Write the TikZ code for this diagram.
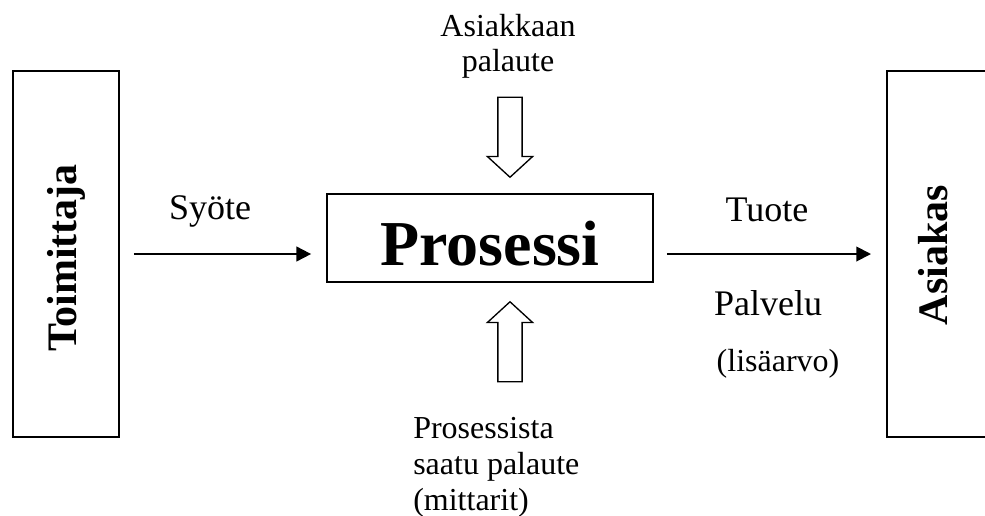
\documentclass[tikz,border=0pt]{standalone}
\usepackage{fontspec}
\setmainfont{Liberation Serif}
\usetikzlibrary{arrows.meta,shapes.arrows}

\tikzset{
  laatikko/.style={draw, line width=1.3pt, inner sep=0pt},
  nuoli/.style={line width=1.4pt, -{Triangle[length=11pt,width=11pt]}},
  paksunuoli/.style={draw, line width=1pt, single arrow, minimum height=60pt, minimum width=33pt,
    single arrow head extend=7.9pt, single arrow tip angle=95, inner xsep=0pt, inner ysep=8.6pt},
  teksti/.style={font=\fontsize{24}{27}\selectfont, inner sep=0pt},
  isoteksti/.style={font=\fontsize{27}{30}\selectfont, inner sep=0pt},
  sivuteksti/.style={font=\fontsize{31.5}{36}\selectfont\bfseries, inner sep=0pt, rotate=90, anchor=base},
}

\begin{document}
\begin{tikzpicture}[x=0.75pt,y=0.75pt,yscale=-1,xscale=1]
\useasboundingbox (0,0) rectangle (985,515);

%Process box
\node [laatikko, minimum width=244.5pt, minimum height=66pt, text height=40.5pt, text depth=0pt,
  font=\fontsize{48}{56}\selectfont\bfseries] (prosessi) at (490,238) {Prosessi};

%Supplier box
\node [laatikko, minimum width=79.5pt, minimum height=274.5pt] (toimittaja) at (66,254) {};
\node [sivuteksti] (toimittajateksti) at (76,258) {Toimittaja};

%Customer box, open on the right
\coordinate (asiakas) at (887,254);
\draw [line width=1.3pt] (990,71) -- (887,71) -- (887,437) -- (990,437);
\node [sivuteksti] (asiakasteksti) at (947,255) {Asiakas};

%Flow arrows
\draw [nuoli, shorten <=10.5pt, shorten >=11.25pt] (toimittaja.east) -- (toimittaja.east -| prosessi.west);
\draw [nuoli, shorten <=9.75pt, shorten >=12pt] (prosessi.east |- asiakas) -- (asiakas);

%Feedback arrows (yshift is flipped by yscale=-1)
\node [paksunuoli, rotate=-90, anchor=tip] (ylanuoli) at ([xshift=15pt,yshift=-11.25pt]prosessi.north) {};
\node [paksunuoli, rotate=90, anchor=tip] (alanuoli) at ([xshift=15pt,yshift=13.5pt]prosessi.south) {};

% Text Node
\node [isoteksti, anchor=base] (syote) at (210,219) {Syöte};
% Text Node
\node [isoteksti, anchor=base] (tuote) at (767,221) {Tuote};
% Text Node
\node [isoteksti, anchor=base] (palvelu) at (768,315) {Palvelu};
% Text Node
\node [teksti, anchor=base] (lisaarvo) at (778,371) {(lisäarvo)};
% Text Node
\node [teksti, anchor=base, align=center, font=\fontsize{24}{26}\selectfont] (asiakaspalaute) at (508,71) {Asiakkaan\\palaute};
% Text Node
\node [teksti, anchor=base west, align=left] (prosessipalaute) at (413,510) {Prosessista\\saatu palaute\\(mittarit)};

\end{tikzpicture}
\end{document}
